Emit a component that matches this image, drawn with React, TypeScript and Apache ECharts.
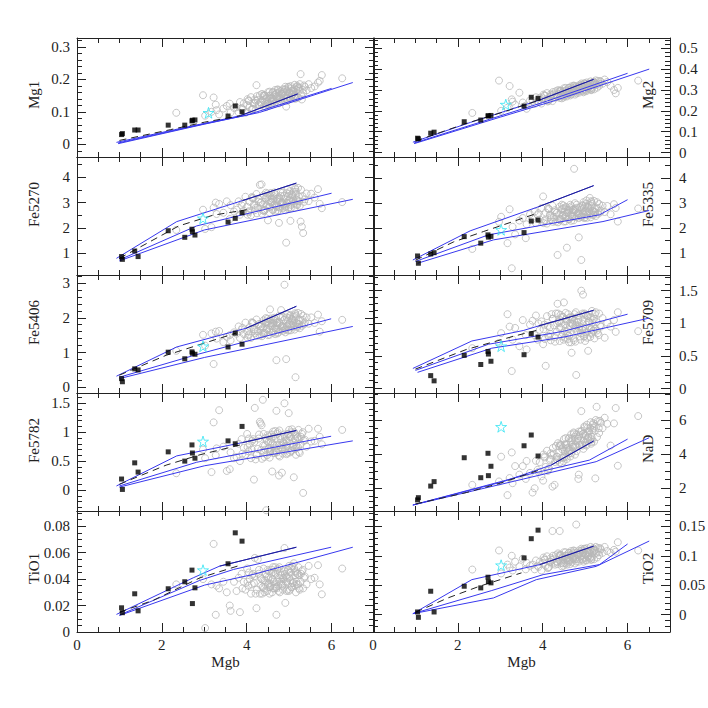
import React, { useEffect, useRef } from 'react';
import * as echarts from 'echarts';

// ---------- grey galaxy sample (shared Mgb) ----------
const greyMgb = [2.34, 2.97, 3.02, 3.17, 3.22, 3.27, 3.29, 3.35, 3.45, 3.53, 3.60, 3.62, 3.70,
  3.76, 3.81, 3.84, 3.88, 3.93, 3.97, 4.01, 4.04, 4.07, 4.10, 4.13, 4.17, 4.19, 4.23, 4.26, 4.28, 4.31, 4.35, 4.38, 4.40, 4.43, 4.46, 4.47, 4.50, 4.52, 4.55, 4.57, 4.60, 4.62, 4.64, 4.66, 4.68, 4.70, 4.72, 4.74, 4.76, 4.78, 4.79, 4.81, 4.83, 4.85, 4.87, 4.89, 4.91, 4.93, 4.95, 4.97, 4.99, 5.01, 5.03, 5.05, 5.07, 5.09, 5.11, 5.13, 5.15, 5.17, 5.19, 5.21, 5.24, 5.27, 5.30, 5.33, 5.37, 5.41, 5.46, 5.52,
  5.60, 5.68, 5.72, 5.77, 6.25,
  3.90, 4.02, 4.15, 4.21, 4.33, 4.41, 4.49, 4.53, 4.58, 4.63, 4.67, 4.71, 4.75, 4.80, 4.84, 4.88, 4.92, 4.96, 5.00, 5.04, 5.08, 5.12, 5.16, 5.20, 5.25, 5.32, 4.44, 4.86, 5.02, 4.73,
  4.05, 4.12, 4.18, 4.24, 4.29, 4.34, 4.39, 4.45, 4.48, 4.51, 4.54, 4.56, 4.59, 4.61, 4.65, 4.69, 4.77, 4.82, 4.90, 4.94,
  4.98, 5.06, 5.10, 5.14, 5.18, 5.22, 5.23, 5.28, 5.35, 4.36, 4.62, 4.85, 5.00, 4.70, 4.95, 5.15, 4.42, 4.77, 5.05, 4.55];

const greyMg1 = [0.097, 0.151, 0.088, 0.100, 0.144, 0.122, 0.105, 0.092, 0.110, 0.118, 0.125, 0.098, 0.112,
  0.114, 0.098, 0.130, 0.111, 0.126, 0.097, 0.121, 0.135, 0.114, 0.145,
  0.109, 0.125, 0.138, 0.182, 0.136, 0.124, 0.151, 0.122, 0.136, 0.117,
  0.150, 0.141, 0.124, 0.160, 0.136, 0.150, 0.121, 0.142, 0.160, 0.136,
  0.152, 0.130, 0.158, 0.142, 0.167, 0.126, 0.152, 0.164, 0.140, 0.156,
  0.134, 0.162, 0.151, 0.177, 0.116, 0.163, 0.149, 0.175, 0.158, 0.139,
  0.172, 0.155, 0.166, 0.147, 0.183, 0.153, 0.167, 0.180, 0.143, 0.175,
  0.216, 0.138, 0.158, 0.177, 0.166, 0.185, 0.173,
  0.178, 0.190, 0.195, 0.213, 0.203,
  0.108, 0.139, 0.109, 0.134, 0.128, 0.152, 0.118, 0.149, 0.141, 0.131,
  0.167, 0.141, 0.160, 0.132, 0.156, 0.143, 0.169, 0.134, 0.160, 0.179,
  0.153, 0.172, 0.149, 0.170, 0.185, 0.168, 0.126, 0.160, 0.141, 0.169,
  0.133, 0.106, 0.128, 0.148, 0.120, 0.129, 0.149, 0.114, 0.145, 0.126,
  0.162, 0.140, 0.134, 0.160, 0.124, 0.155, 0.144, 0.155, 0.169, 0.140,
  0.177, 0.150, 0.164, 0.140, 0.177, 0.174, 0.164, 0.151, 0.181, 0.155,
  0.138, 0.169, 0.145, 0.146, 0.163, 0.143, 0.150, 0.141, 0.164, 0.125];

const greyMg2 = [0.190, 0.345, 0.200, 0.215, 0.319, 0.255, 0.244, 0.230, 0.287, 0.240, 0.225, 0.210, 0.250,
  0.248, 0.234, 0.265, 0.247, 0.263, 0.235, 0.260, 0.274, 0.253, 0.285,
  0.249, 0.266, 0.280, 0.247, 0.279, 0.267, 0.294, 0.266, 0.281, 0.262,
  0.296, 0.288, 0.271, 0.308, 0.284, 0.298, 0.269, 0.291, 0.310, 0.286,
  0.302, 0.280, 0.309, 0.293, 0.319, 0.278, 0.304, 0.317, 0.293, 0.309,
  0.287, 0.316, 0.305, 0.331, 0.297, 0.318, 0.304, 0.331, 0.314, 0.295,
  0.329, 0.312, 0.324, 0.305, 0.341, 0.312, 0.326, 0.339, 0.303, 0.335,
  0.326, 0.343, 0.320, 0.340, 0.330, 0.350, 0.338,
  0.320, 0.300, 0.284, 0.310, 0.345,
  0.244, 0.278, 0.250, 0.276, 0.273, 0.298, 0.264, 0.297, 0.290, 0.280,
  0.317, 0.292, 0.312, 0.284, 0.309, 0.297, 0.324, 0.289, 0.316, 0.336,
  0.311, 0.330, 0.308, 0.330, 0.346, 0.330, 0.272, 0.313, 0.297, 0.321,
  0.272, 0.245, 0.270, 0.290, 0.263, 0.273, 0.294, 0.260, 0.291, 0.273,
  0.310, 0.288, 0.283, 0.309, 0.274, 0.306, 0.295, 0.308, 0.323, 0.295,
  0.332, 0.307, 0.322, 0.299, 0.337, 0.334, 0.325, 0.311, 0.343, 0.299,
  0.287, 0.322, 0.301, 0.296, 0.319, 0.302, 0.295, 0.293, 0.321, 0.273];

const greyFe5270 = [1.92, 2.72, 1.96, 2.03, 2.80, 3.00, 2.55, 2.95, 2.60, 3.05, 2.35, 2.90, 2.65,
  2.72, 3.05, 2.52, 2.89, 2.68, 3.23, 2.83, 2.62, 3.03, 2.50,
  3.18, 2.92, 2.70, 3.34, 2.81, 3.03, 3.70, 3.72, 2.93, 3.29,
  2.71, 2.90, 3.22, 2.30, 3.05, 2.83, 3.38, 3.03, 2.72, 3.17,
  2.91, 3.32, 2.83, 3.15, 2.70, 2.20, 3.03, 2.80, 3.26, 2.99,
  3.40, 2.91, 3.14, 2.70, 1.42, 2.98, 3.25, 2.81, 3.13, 2.28,
  2.91, 3.23, 3.06, 3.42, 2.80, 3.34, 3.12, 2.90, 3.58, 3.05,
  2.25, 2.05, 1.80, 3.13, 3.36, 3.06, 3.35,
  3.20, 3.53, 2.95, 2.78, 3.02,
  2.99, 2.52, 3.18, 2.79, 3.00, 2.66, 3.36, 2.83, 3.02, 3.26,
  2.64, 3.14, 2.84, 3.39, 3.00, 3.27, 2.84, 3.52, 3.08, 2.78,
  3.28, 2.98, 3.43, 3.09, 2.87, 3.25, 3.17, 2.95, 3.45, 2.65,
  2.66, 3.22, 2.88, 2.58, 3.13, 3.00, 2.70, 3.39, 2.86, 3.23,
  2.61, 3.02, 3.16, 2.71, 3.40, 2.87, 3.16, 2.99, 2.83, 3.38,
  2.76, 3.32, 3.10, 3.57, 2.94, 3.05, 3.23, 3.51, 3.03, 2.56,
  3.12, 2.77, 3.35, 3.05, 2.98, 3.52, 2.71, 3.20, 3.05, 3.28];

const greyFe5335 = [1.17, 2.25, 2.45, 1.40, 2.75, 0.40, 2.05, 1.75, 2.30, 2.40, 1.60, 2.15, 2.55,
  2.37, 2.65, 2.20, 2.52, 2.34, 2.79, 3.26, 2.28, 2.62, 2.18,
  2.76, 2.53, 2.35, 2.89, 2.44, 2.64, 2.26, 0.93, 2.54, 2.85,
  2.36, 2.51, 2.78, 2.26, 2.64, 2.46, 1.22, 2.62, 2.35, 2.74,
  2.52, 2.87, 2.45, 2.72, 4.36, 2.99, 2.62, 2.43, 2.81, 2.59,
  1.63, 2.52, 2.72, 0.73, 2.88, 2.58, 2.80, 2.43, 2.70, 3.10,
  2.52, 2.79, 2.64, 3.20, 2.43, 2.88, 2.69, 2.51, 3.08, 2.64,
  2.79, 2.57, 2.96, 2.69, 2.89, 2.64, 2.88,
  2.55, 2.95, 2.80, 2.26, 2.78,
  2.59, 2.20, 2.76, 2.43, 2.61, 2.31, 2.90, 2.46, 2.62, 2.82,
  2.29, 2.72, 2.46, 2.93, 2.59, 2.83, 2.45, 3.03, 2.66, 2.41,
  2.83, 2.57, 2.96, 2.66, 2.48, 2.80, 2.74, 2.56, 2.97, 2.31,
  2.32, 2.79, 2.50, 2.25, 2.71, 2.61, 2.35, 2.93, 2.49, 2.79,
  2.27, 2.61, 2.73, 2.35, 2.93, 2.49, 2.73, 2.58, 2.45, 2.92,
  2.40, 2.86, 2.68, 3.07, 2.55, 2.63, 2.79, 3.03, 2.62, 2.23,
  2.70, 2.40, 2.89, 2.64, 2.58, 3.03, 2.35, 2.76, 2.63, 2.84];

const greyFe5406 = [1.05, 1.51, 1.20, 1.55, 0.67, 1.60, 1.40, 1.62, 1.30, 1.45, 1.50, 1.35, 1.58,
  1.54, 1.75, 1.42, 1.66, 1.53, 1.86, 1.62, 1.49, 1.74, 1.42,
  1.85, 1.68, 1.55, 1.95, 1.62, 1.77, 1.49, 1.83, 1.70, 1.93,
  1.57, 1.68, 1.88, 1.50, 1.78, 2.24, 1.98, 1.77, 1.57, 1.86,
  1.70, 1.96, 0.78, 1.85, 1.58, 2.05, 1.78, 1.64, 2.22, 1.76,
  2.02, 1.71, 2.95, 1.58, 0.81, 1.76, 1.92, 1.65, 1.85, 2.08,
  1.72, 1.92, 1.81, 2.04, 1.66, 0.29, 1.85, 1.72, 2.14, 1.82,
  1.93, 1.77, 2.06, 1.86, 2.01, 1.83, 2.01,
  1.85, 2.09, 1.60, 1.90, 1.94,
  1.71, 1.43, 1.85, 1.61, 1.75, 1.53, 1.97, 1.65, 1.77, 1.92,
  1.53, 1.85, 1.66, 2.01, 1.76, 1.94, 1.66, 2.09, 1.82, 1.64,
  1.95, 1.76, 2.05, 1.83, 1.70, 1.94, 1.85, 1.74, 2.05, 1.55,
  1.52, 1.87, 1.66, 1.48, 1.82, 1.75, 1.56, 1.99, 1.67, 1.89,
  1.51, 1.76, 1.85, 1.57, 2.00, 1.68, 1.86, 1.75, 1.66, 2.01,
  1.63, 1.97, 1.84, 2.13, 1.75, 1.81, 1.93, 2.11, 1.81, 1.47,
  1.83, 1.62, 1.99, 1.79, 1.76, 2.10, 1.56, 1.88, 1.80, 1.93];

const greyFe5709 = [0.62, 0.70, 0.85, 1.14, 0.95, 0.27, 0.75, 0.93, 0.65, 1.05, 0.82, 0.60, 0.98,
  1.04, 0.82, 1.12, 0.75, 0.90, 1.03, 0.68, 0.98, 0.35, 1.11,
  0.81, 0.94, 0.74, 1.07, 0.97, 0.79, 1.15, 1.30, 1.02, 0.73,
  0.93, 1.10, 0.85, 1.32, 0.78, 1.06, 0.88, 1.14, 0.71, 0.96,
  1.09, 0.55, 0.99, 0.77, 1.04, 0.92, 1.17, 0.21, 1.02, 0.87,
  1.12, 0.95, 0.75, 1.50, 0.90, 1.44, 0.80, 1.15, 0.86, 0.98,
  1.11, 0.58, 1.03, 0.94, 1.09, 0.84, 1.01, 0.89, 1.07, 0.92,
  1.02, 0.85, 1.15, 0.95, 1.08, 0.78, 1.01,
  0.95, 1.05, 0.87, 1.17, 0.88,
  1.00, 0.91, 0.79, 1.14, 0.87, 1.05, 0.75, 0.98, 0.83, 1.09,
  0.71, 0.97, 1.14, 0.87, 1.05, 0.80, 1.00, 1.13, 0.93, 0.86,
  1.03, 0.79, 1.19, 0.89, 1.17, 0.82, 1.00, 0.92, 1.13, 0.74,
  0.76, 0.96, 0.84, 1.07, 0.72, 1.00, 0.93, 0.80, 1.10, 0.88,
  1.16, 1.03, 0.76, 0.91, 1.01, 1.07, 0.72, 0.97, 0.85, 1.15,
  0.80, 1.11, 1.01, 0.91, 1.06, 0.77, 1.14, 0.89, 0.97, 1.15,
  0.81, 1.02, 0.73, 1.09, 0.93, 0.86, 1.13, 0.97, 0.78, 1.06];

const greyFe5782 = [0.29, 0.70, 0.55, 0.31, 1.17, 0.60, 0.72, 1.38, 0.75, 0.33, 0.36, 0.65, 0.55,
  0.57, 0.80, 0.50, 0.88, 0.73, 0.61, 0.97, 0.67, 0.80, 0.55,
  0.85, 0.18, 1.42, 0.61, 0.71, 0.89, 1.18, 1.12, 1.56, 0.97,
  0.77, -0.35, 0.85, 0.71, 0.93, 0.66, 0.84, 0.32, 1.01, 0.77,
  0.64, 0.89, 1.37, 0.97, 0.70, 0.25, 0.58, 0.93, 0.73, 0.30,
  0.63, 0.81, 1.50, 0.69, 0.86, 0.77, 0.97, 1.33, 0.92, 0.80,
  0.67, 1.05, 0.75, 0.22, 0.71, 0.96, 0.78, 0.91, 0.74, 0.89,
  0.79, 0.97, -0.05, 0.87, 0.75, 1.06, 0.84,
  0.85, 1.06, 0.92, 0.79, 1.04,
  0.63, 0.74, 0.88, 0.53, 1.15, 0.65, 0.95, 0.73, 0.89, 0.64,
  1.02, 0.77, 0.60, 0.88, 0.71, 0.96, 0.76, 0.64, 0.85, 0.92,
  0.75, 1.00, 0.61, 0.91, 0.64, 1.00, 0.70, 0.83, 0.65, 1.00,
  0.89, 0.70, 0.83, 0.61, 0.96, 0.69, 0.77, 0.90, 0.60, 0.83,
  0.56, 0.69, 0.96, 0.81, 0.72, 0.67, 1.03, 0.78, 0.91, 0.62,
  0.97, 0.68, 0.78, 0.88, 0.73, 1.04, 0.66, 0.92, 0.85, 0.54,
  0.92, 0.73, 1.04, 0.65, 0.84, 0.93, 0.57, 0.78, 1.00, 0.66];

const greyNaD = [2.20, 2.40, 3.85, 1.60, 2.60, 4.10, 2.30, 3.30, 2.80, 3.30, 2.55, 3.60, 2.90,
  1.75, 2.00, 3.61, 3.08, 3.53, 2.70, 2.45, 3.87, 3.25, 4.20,
  3.12, 3.64, 4.05, 2.10, 4.02, 2.20, 4.48, 3.65, 4.08, 3.51,
  4.53, 4.28, 3.78, 4.88, 4.16, 4.59, 3.72, 4.37, 4.93, 4.22,
  4.70, 4.06, 4.92, 4.42, 5.21, 3.97, 4.75, 5.14, 4.43, 4.91,
  2.80, 5.13, 4.79, 6.52, 4.56, 5.19, 4.78, 5.56, 5.07, 4.50,
  5.51, 5.02, 5.35, 4.79, 5.87, 5.01, 5.41, 5.82, 4.73, 2.58,
  6.77, 5.93, 5.24, 5.83, 5.52, 6.13, 5.78,
  4.50, 5.80, 6.70, 3.32, 6.23,
  2.96, 3.98, 3.16, 3.94, 3.84, 4.58, 3.58, 4.55, 4.34, 4.05,
  5.16, 4.41, 5.00, 4.18, 2.55, 4.55, 5.36, 4.31, 5.13, 5.72,
  4.97, 5.55, 4.87, 5.54, 6.00, 5.52, 3.80, 5.04, 4.56, 5.27,
  3.81, 3.02, 3.73, 4.36, 3.54, 3.85, 4.46, 3.44, 4.39, 3.84,
  4.94, 4.30, 4.13, 4.91, 3.86, 4.82, 4.51, 4.89, 5.33, 4.50,
  5.62, 4.85, 5.30, 4.61, 5.73, 5.65, 5.37, 5.00, 5.95, 4.64,
  4.25, 5.32, 4.68, 4.54, 5.19, 4.71, 4.51, 4.43, 5.29, 3.84];

const greyTiO1 = [0.036, 0.040, 0.003, 0.036, 0.0666, 0.013, 0.035, 0.033, 0.038, 0.030, 0.020, 0.016, 0.038,
  0.031, 0.041, 0.015, 0.044, 0.038, 0.032, 0.048, 0.035, 0.040, 0.029,
  0.043, 0.037, 0.056, 0.018, 0.055, 0.044, 0.029, 0.040, 0.034, 0.048,
  0.039, 0.0925, 0.042, 0.036, 0.046, 0.034, 0.041, 0.030, 0.049, 0.038,
  0.033, 0.044, 0.013, 0.047, 0.035, 0.041, 0.030, 0.045, 0.036, 0.043,
  0.032, 0.040, 0.0635, 0.022, 0.042, 0.038, 0.047, 0.031, 0.045, 0.039,
  0.034, 0.050, 0.037, 0.052, 0.035, 0.046, 0.038, 0.044, 0.036, 0.043,
  0.038, 0.046, 0.033, 0.042, 0.036, 0.050, 0.040,
  0.041, 0.0505, 0.036, 0.0285, 0.048,
  0.033, 0.038, 0.044, 0.029, 0.041, 0.033, 0.047, 0.037, 0.044, 0.033,
  0.049, 0.038, 0.031, 0.043, 0.035, 0.046, 0.038, 0.032, 0.041, 0.045,
  0.037, 0.048, 0.030, 0.044, 0.032, 0.047, 0.036, 0.041, 0.032, 0.048,
  0.045, 0.036, 0.042, 0.032, 0.047, 0.035, 0.039, 0.044, 0.031, 0.041,
  0.029, 0.035, 0.047, 0.040, 0.036, 0.034, 0.049, 0.038, 0.044, 0.031,
  0.047, 0.034, 0.038, 0.043, 0.036, 0.049, 0.033, 0.044, 0.041, 0.029,
  0.045, 0.036, 0.050, 0.033, 0.041, 0.045, 0.030, 0.038, 0.048, 0.034];

const greyTiO2 = [0.0766, 0.109, 0.070, 0.085, 0.080, 0.100, 0.075, 0.090, 0.082, 0.095, 0.077, 0.088, 0.083,
  0.085, 0.077, 0.092, 0.083, 0.090, 0.075, 0.088, 0.094, 0.083, 0.099,
  0.080, 0.089, 0.096, 0.142, 0.094, 0.088, 0.101, 0.086, 0.093, 0.142,
  0.101, 0.096, 0.087, 0.106, 0.093, 0.100, 0.085, 0.096, 0.105, 0.092,
  0.100, 0.089, 0.104, 0.095, 0.108, 0.087, 0.100, 0.153, 0.094, 0.102,
  0.090, 0.105, 0.099, 0.112, 0.094, 0.105, 0.098, 0.111, 0.102, 0.092,
  0.109, 0.101, 0.106, 0.096, 0.115, 0.099, 0.106, 0.113, 0.094, 0.110,
  0.105, 0.113, 0.101, 0.111, 0.105, 0.115, 0.108,
  0.105, 0.110, 0.107, 0.123, 0.109,
  0.081, 0.097, 0.081, 0.093, 0.090, 0.102, 0.083, 0.100, 0.095, 0.090,
  0.108, 0.095, 0.105, 0.090, 0.102, 0.095, 0.109, 0.090, 0.103, 0.113,
  0.099, 0.109, 0.097, 0.108, 0.115, 0.106, 0.088, 0.104, 0.093, 0.109,
  0.093, 0.079, 0.090, 0.100, 0.085, 0.090, 0.100, 0.082, 0.098, 0.088,
  0.106, 0.095, 0.092, 0.105, 0.086, 0.102, 0.096, 0.102, 0.108, 0.093,
  0.112, 0.098, 0.105, 0.093, 0.111, 0.109, 0.104, 0.097, 0.113, 0.104,
  0.093, 0.109, 0.096, 0.097, 0.105, 0.094, 0.101, 0.094, 0.105, 0.087];

// ---------- black squares (shared Mgb) ----------
const sqMgb = [1.05, 1.07, 1.36, 1.44, 2.15, 2.54, 2.71, 2.72, 2.78, 3.56, 3.73, 3.89];
const sqMg1 = [0.030, 0.033, 0.044, 0.044, 0.059, 0.059, 0.072, 0.074, 0.075, 0.087, 0.118, 0.100];
const sqMg2 = [0.069, 0.066, 0.093, 0.098, 0.148, 0.156, 0.176, 0.176, 0.178, 0.223, 0.265, 0.260];
const sqFe5270 = [0.87, 0.76, 1.09, 0.87, 1.89, 1.63, 1.95, 1.85, 1.72, 2.23, 2.38, 2.60];
const sqFe5335 = [0.89, 0.60, 0.97, 1.02, 1.66, 1.40, 1.73, 1.64, 1.67, 1.82, 2.28, 2.32];
const sqFe5406 = [0.25, 0.16, 0.53, 0.50, 1.01, 0.82, 1.02, 0.98, 0.95, 1.16, 1.56, 1.24];
const sqFe5709 = [-0.30, -0.35, 0.20, 0.12, 0.51, 0.37, 0.57, 0.53, 0.42, 0.52, 0.84, 0.79];
const sqFe5782 = [0.19, 0.01, 0.47, 0.31, 0.66, 0.50, 0.78, 0.64, 0.55, 0.85, 0.80, 1.10];
const sqNaD = [1.32, 1.45, 2.13, 2.39, 3.79, 2.62, 4.05, 2.74, 3.29, 4.49, 5.12, 3.89];
const sqTiO1 = [0.0183, 0.0146, 0.0289, 0.0160, 0.0327, 0.0380, 0.0468, 0.0215, 0.0334, 0.0516, 0.0750, 0.0687];
const sqTiO2 = [0.0046, -0.0045, 0.0398, 0.0046, 0.0483, 0.0455, 0.0636, 0.0560, 0.0540, 0.0964, 0.1290, 0.1435];

// ---------- cyan star, panel order Mg1, Mg2, Fe5270, Fe5335, Fe5406, Fe5709, Fe5782, NaD, TiO1, TiO2 ----------
const starMgb = [3.10, 3.13, 2.97, 3.02, 2.97, 3.02, 2.97, 3.02, 2.97, 3.02];
const starIndex = [0.097, 0.23, 2.38, 1.93, 1.18, 0.65, 0.84, 5.6, 0.0468, 0.084];

// ---------- model tracks ----------
const mg1A = [[0.93, 0.006], [2.3, 0.045], [3.85, 0.088], [5.2, 0.155]];
const mg1B = [[0.97, 0.004], [2.75, 0.056], [4.0, 0.09], [6.0, 0.172]];
const mg1C = [[0.97, 0.002], [3.0, 0.062], [4.3, 0.098], [6.5, 0.19]];
const mg1D = [[1.0, 0.012], [2.2, 0.045], [3.0, 0.068], [3.85, 0.088]];

const mg2A = [[0.94, 0.05], [2.3, 0.145], [3.9, 0.25], [5.2, 0.351]];
const mg2B = [[0.97, 0.046], [2.75, 0.16], [4.0, 0.24], [6.0, 0.38]];
const mg2C = [[0.97, 0.043], [3.0, 0.17], [4.3, 0.25], [6.51, 0.40]];
const mg2D = [[1.0, 0.055], [2.2, 0.14], [3.0, 0.19], [3.9, 0.25]];

const fe5270A = [[0.93, 0.80], [2.35, 2.25], [3.9, 3.08], [5.17, 3.77]];
const fe5270B = [[1.0, 0.74], [2.82, 2.08], [6.0, 3.37]];
const fe5270C = [[1.0, 0.70], [3.0, 1.92], [6.5, 3.13]];
const fe5270D = [[1.0, 0.80], [2.4, 2.08], [3.2, 2.5], [4.0, 2.72]];

const fe5335A = [[0.94, 0.73], [2.29, 1.89], [3.9, 2.85], [5.2, 3.69]];
const fe5335B = [[1.0, 0.67], [2.72, 1.73], [5.34, 2.53], [6.0, 3.13]];
const fe5335C = [[1.05, 0.60], [2.84, 1.53], [5.42, 2.26], [6.51, 2.70]];
const fe5335D = [[1.0, 0.72], [1.9, 1.45], [2.6, 1.86], [3.3, 2.26], [3.85, 2.58]];

const fe5406A = [[0.93, 0.32], [2.35, 1.16], [3.99, 1.70], [5.17, 2.33]];
const fe5406B = [[1.0, 0.29], [2.82, 0.94], [5.99, 1.97]];
const fe5406C = [[1.0, 0.25], [3.01, 0.86], [6.5, 1.75]];
const fe5406D = [[1.0, 0.35], [2.1, 0.92], [3.0, 1.27], [3.75, 1.56]];

const fe5709A = [[0.94, 0.31], [2.33, 0.73], [3.54, 0.89], [3.9, 0.96], [5.2, 1.2]];
const fe5709B = [[1.0, 0.28], [2.72, 0.68], [4.5, 0.88], [6.0, 1.14]];
const fe5709C = [[1.05, 0.25], [2.8, 0.62], [4.5, 0.79], [6.51, 1.08]];
const fe5709D = [[1.0, 0.30], [2.2, 0.60], [3.3, 0.80], [3.9, 0.90]];

const fe5782A = [[0.93, 0.07], [2.35, 0.59], [3.9, 0.82], [5.17, 1.03]];
const fe5782B = [[1.0, 0.07], [2.82, 0.48], [5.99, 0.93]];
const fe5782C = [[1.0, 0.05], [3.01, 0.42], [6.5, 0.85]];
const fe5782D = [[1.0, 0.10], [2.1, 0.43], [2.9, 0.61], [3.85, 0.78]];

const nadA = [[0.94, 1.02], [3.07, 2.39], [4.2, 3.36], [5.2, 4.77]];
const nadB = [[0.94, 1.02], [3.54, 2.74], [5.1, 3.65], [6.0, 4.88]];
const nadC = [[0.94, 1.02], [3.54, 2.54], [5.26, 3.56], [6.51, 4.96]];
const nadD = [[1.0, 1.08], [2.2, 1.75], [3.0, 2.30], [3.9, 3.05]];

const tio1A = [[0.93, 0.0133], [2.74, 0.041], [3.36, 0.0498], [5.17, 0.0641]];
const tio1B = [[1.0, 0.0128], [2.89, 0.039], [3.69, 0.0473], [5.99, 0.0641]];
const tio1C = [[1.0, 0.0125], [3.01, 0.0355], [4.15, 0.0435], [6.5, 0.0641]];
const tio1D = [[1.0, 0.015], [1.8, 0.024], [2.9, 0.041], [3.8, 0.050]];

const tio2A = [[0.94, 0.0017], [2.33, 0.0595], [3.93, 0.085], [5.2, 0.1163]];
const tio2B = [[0.94, 0.0017], [2.8, 0.041], [4.01, 0.068], [5.34, 0.085], [6.0, 0.12]];
const tio2C = [[0.94, 0.0017], [2.84, 0.0284], [3.85, 0.0595], [5.26, 0.082], [6.51, 0.125]];
const tio2D = [[1.0, 0.004], [1.75, 0.028], [2.5, 0.048], [3.5, 0.071]];

// ---------- axis ticks ----------
const xMajor = [0, 2, 4, 6];
const mg1Ticks = [0, 0.1, 0.2, 0.3];
const mg2Ticks = [0, 0.1, 0.2, 0.3, 0.4, 0.5];
const fe5270Ticks = [1, 2, 3, 4];
const fe5335Ticks = [1, 2, 3, 4];
const fe5406Ticks = [0, 1, 2, 3];
const fe5709Ticks = [0, 0.5, 1, 1.5];
const fe5782Ticks = [0, 0.5, 1, 1.5];
const nadTicks = [2, 4, 6];
const tio1Ticks = [0, 0.02, 0.04, 0.06, 0.08];
const tio2Ticks = [0, 0.05, 0.1, 0.15];

const panels = [
  { name: 'Mg1', grey: greyMg1, sq: sqMg1, A: mg1A, B: mg1B, C: mg1C, D: mg1D, dark: 2, min: -0.039, max: 0.327, major: mg1Ticks, step: 0.02 },
  { name: 'Mg2', grey: greyMg2, sq: sqMg2, A: mg2A, B: mg2B, C: mg2C, D: mg2D, dark: 2, min: -0.021, max: 0.549, major: mg2Ticks, step: 0.02 },
  { name: 'Fe5270', grey: greyFe5270, sq: sqFe5270, A: fe5270A, B: fe5270B, C: fe5270C, D: fe5270D, dark: 2, min: 0.143, max: 4.80, major: fe5270Ticks, step: 0.5 },
  { name: 'Fe5335', grey: greyFe5335, sq: sqFe5335, A: fe5335A, B: fe5335B, C: fe5335C, D: fe5335D, dark: 2, min: 0.132, max: 4.83, major: fe5335Ticks, step: 0.5 },
  { name: 'Fe5406', grey: greyFe5406, sq: sqFe5406, A: fe5406A, B: fe5406B, C: fe5406C, D: fe5406D, dark: 2, min: -0.164, max: 3.23, major: fe5406Ticks, step: 0.2 },
  { name: 'Fe5709', grey: greyFe5709, sq: sqFe5709, A: fe5709A, B: fe5709B, C: fe5709C, D: fe5709D, dark: 3, min: -0.066, max: 1.74, major: fe5709Ticks, step: 0.1 },
  { name: 'Fe5782', grey: greyFe5782, sq: sqFe5782, A: fe5782A, B: fe5782B, C: fe5782C, D: fe5782D, dark: 2, min: -0.363, max: 1.678, major: fe5782Ticks, step: 0.1 },
  { name: 'NaD', grey: greyNaD, sq: sqNaD, A: nadA, B: nadB, C: nadC, D: nadD, dark: 2, min: 0.67, max: 7.58, major: nadTicks, step: 0.5 },
  { name: 'TiO1', grey: greyTiO1, sq: sqTiO1, A: tio1A, B: tio1B, C: tio1C, D: tio1D, dark: 2, min: 0, max: 0.0915, major: tio1Ticks, step: 0.005 },
  { name: 'TiO2', grey: greyTiO2, sq: sqTiO2, A: tio2A, B: tio2B, C: tio2C, D: tio2D, dark: 2, min: -0.0294, max: 0.176, major: tio2Ticks, step: 0.01 },
];

// ---------- layout ----------
const colLeft = [77, 373];
const colWidth = 297;
const rowEdges = [38, 157, 275, 393, 511, 632];
const FONT = '"Liberation Serif", "Times New Roman", serif';
const INK = '#222';
const BLUE = '#3838ee';
const STAR = 'path://M50,2 L61,38 L98,38 L68,60 L79,96 L50,74 L21,96 L32,60 L2,38 L39,38 Z';

function minorTicks(min: number, max: number, step: number, majors: number[]) {
  const out: number[] = [];
  const k0 = Math.ceil(min / step - 1e-6);
  const k1 = Math.floor(max / step + 1e-6);
  for (let k = k0; k <= k1; k++) {
    const v = +(k * step).toFixed(6);
    if (!majors.some((m) => Math.abs(m - v) < step / 100)) out.push(v);
  }
  return out;
}

const fmt = (v: number) => String(parseFloat(Number(v).toFixed(4)));

function buildOption() {
  const grid: any[] = [];
  const xAxis: any[] = [];
  const yAxis: any[] = [];
  const series: any[] = [];
  const graphic: any[] = [];
  const xMinor = minorTicks(0, 7, 0.5, xMajor);
  const line = { show: true, onZero: false, lineStyle: { color: INK, width: 1 } };
  const noLine = { show: false, onZero: false };

  panels.forEach((p, g) => {
    const row = Math.floor(g / 2);
    const col = g % 2;
    const top = rowEdges[row];
    const height = rowEdges[row + 1] - rowEdges[row];
    grid.push({ left: colLeft[col], top, width: colWidth, height, containLabel: false, outerBoundsMode: 'none', show: false });

    const xb = { type: 'value', gridIndex: g, min: 0, max: 7, splitLine: { show: false } };
    const bottomRow = row === 4;
    xAxis.push({
      ...xb, position: 'bottom', axisLine: line,
      axisTick: { show: true, inside: true, length: 9, customValues: xMajor, lineStyle: { color: INK, width: 1 } },
      axisLabel: { show: bottomRow, customValues: xMajor, margin: 5, fontFamily: FONT, fontSize: 15, color: INK, formatter: fmt },
      name: bottomRow ? 'Mgb' : '', nameLocation: 'middle', nameGap: 22,
      nameTextStyle: { fontFamily: FONT, fontSize: 15, color: INK },
    });
    xAxis.push({ ...xb, position: 'bottom', axisLine: noLine, axisTick: { show: true, inside: true, length: 5, customValues: xMinor, lineStyle: { color: INK, width: 1 } }, axisLabel: { show: false } });
    xAxis.push({ ...xb, position: 'top', axisLine: line, axisTick: { show: true, inside: true, length: 9, customValues: xMajor, lineStyle: { color: INK, width: 1 } }, axisLabel: { show: false } });
    xAxis.push({ ...xb, position: 'top', axisLine: noLine, axisTick: { show: true, inside: true, length: 5, customValues: xMinor, lineStyle: { color: INK, width: 1 } }, axisLabel: { show: false } });

    const yMinor = minorTicks(p.min, p.max, p.step, p.major);
    const yb = { type: 'value', gridIndex: g, min: p.min, max: p.max, splitLine: { show: false } };
    const majTick = { show: true, inside: true, length: 9, customValues: p.major, lineStyle: { color: INK, width: 1 } };
    const minTick = { show: true, inside: true, length: 5, customValues: yMinor, lineStyle: { color: INK, width: 1 } };
    yAxis.push({ ...yb, position: 'left', axisLine: line, axisTick: majTick,
      axisLabel: { show: col === 0, customValues: p.major, margin: 7, fontFamily: FONT, fontSize: 15, color: INK, formatter: fmt } });
    yAxis.push({ ...yb, position: 'left', axisLine: noLine, axisTick: minTick, axisLabel: { show: false } });
    yAxis.push({ ...yb, position: 'right', axisLine: line, axisTick: majTick,
      axisLabel: { show: col === 1, customValues: p.major, margin: 9, fontFamily: FONT, fontSize: 15, color: INK, formatter: fmt } });
    yAxis.push({ ...yb, position: 'right', axisLine: noLine, axisTick: minTick, axisLabel: { show: false } });

    const ax = { xAxisIndex: g * 4, yAxisIndex: g * 4, silent: true, animation: false };
    series.push({
      ...ax, type: 'scatter', z: 2, symbol: 'circle', symbolSize: 7,
      data: greyMgb.map((x, k) => [x, p.grey[k]]),
      itemStyle: { color: 'rgba(0,0,0,0)', borderColor: '#b8b8b8', borderWidth: 1 },
    });
    [p.A, p.B, p.C].forEach((m) => {
      series.push({ ...ax, type: 'line', z: 3, data: m, symbol: 'none', showSymbol: false, lineStyle: { color: BLUE, width: 1 } });
    });
    series.push({ ...ax, type: 'line', z: 3, data: p.D, symbol: 'none', showSymbol: false, lineStyle: { color: '#222', width: 1, type: [7, 5] } });
    series.push({ ...ax, type: 'line', z: 3, data: p.A.slice(p.dark), symbol: 'none', showSymbol: false, lineStyle: { color: '#202090', width: 1 } });
    series.push({
      ...ax, type: 'scatter', z: 4, symbol: 'rect', symbolSize: 5,
      data: sqMgb.map((x, k) => [x, p.sq[k]]), itemStyle: { color: '#000' },
    });
    series.push({
      ...ax, type: 'scatter', z: 5, symbol: STAR, symbolSize: 11, symbolKeepAspect: true,
      data: [[starMgb[g], starIndex[g]]],
      itemStyle: { color: 'rgba(0,0,0,0)', borderColor: '#2fe3f2', borderWidth: 1 },
    });

    const bottom = rowEdges[row + 1];
    graphic.push({
      type: 'text', x: col === 0 ? 34 : 648, y: bottom - 48, rotation: Math.PI / 2, silent: true,
      style: { text: p.name, font: `15px ${FONT}`, fill: INK, align: 'left', verticalAlign: 'middle', textAlign: 'left', textVerticalAlign: 'middle' },
    });
  });

  return { animation: false, backgroundColor: '#fff', grid, xAxis, yAxis, series, graphic };
}

export default function App() {
  const ref = useRef<HTMLDivElement>(null);
  useEffect(() => {
    const chart = echarts.init(ref.current as HTMLDivElement, null, { renderer: 'svg' });
    chart.setOption(buildOption() as any);
    return () => chart.dispose();
  }, []);
  return <div ref={ref} style={{ position: 'absolute', left: 0, top: 0, width: 708, height: 708, background: '#fff' }} />;
}
